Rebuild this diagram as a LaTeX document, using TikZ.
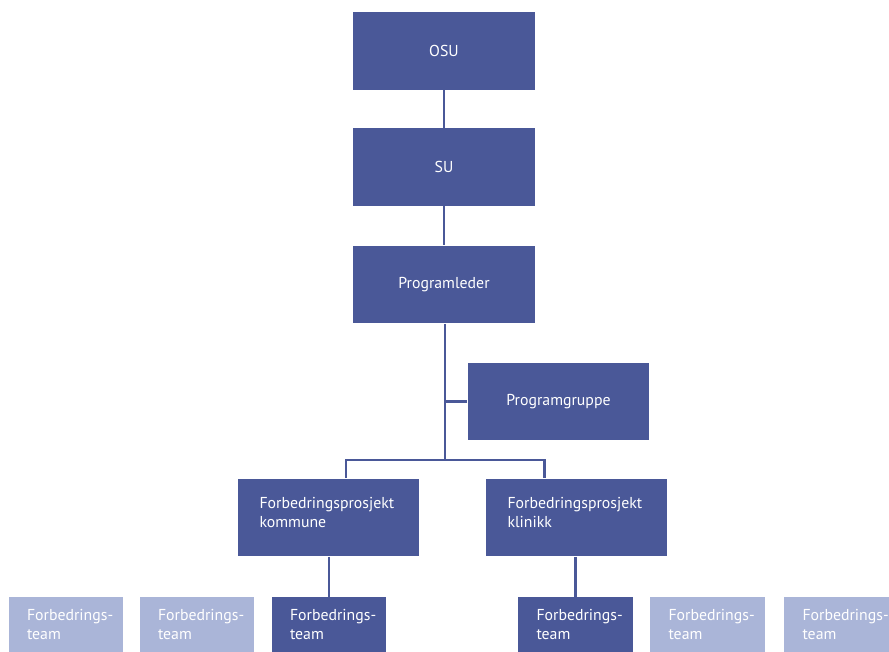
\documentclass[tikz,border=0pt]{standalone}
\usepackage{fontspec}
\setsansfont{PT Sans}
\usetikzlibrary{positioning}

\definecolor{orgdark}{RGB}{74,88,152}
\definecolor{orglight}{RGB}{170,181,216}

\tikzset{
  unit/.style={fill=orgdark, text=white, font=\sffamily\fontsize{9}{10.8}\selectfont,
    minimum width=3.64cm, minimum height=1.56cm, inner sep=0pt},
  project/.style={unit, text width=2.76cm, align=left},
  team/.style={unit, fill=orgdark, minimum width=2.3cm, minimum height=1.28cm,
    text width=1.56cm, align=left},
  spare/.style={team, fill=orglight},
  link/.style={draw=orgdark, line width=1.7pt}
}

\begin{document}
\begin{tikzpicture}[x=0.02cm, y=-0.02cm]
    \useasboundingbox (0,0) rectangle (889,652);
    \clip (0,0) rectangle (889,652);

    % management line
    \node[unit] (osu) at (444,51) {OSU};
    \node[unit] (su) at (444,167) {SU};
    \node[unit] (leder) at (444,284.5) {Programleder};
    \node[unit] (gruppe) at (558.5,401.5) {Programgruppe};

    \node[project] (kommune) at (328.5,517.5) {Forbedringsprosjekt\\kommune\\[-5pt]\mbox{}};
    \node[project] (klinikk) at (576.5,517.5) {Forbedringsprosjekt\\klinikk\\[-5pt]\mbox{}};

    % teams
    \node[spare] (teamA) at (66,629) {\mbox{Forbedrings-}\\team\\[-6pt]\mbox{}};
    \node[spare] (teamB) at (197,629) {\mbox{Forbedrings-}\\team\\[-6pt]\mbox{}};
    \node[team] (teamC) at (329,629) {\mbox{Forbedrings-}\\team\\[-6pt]\mbox{}};
    \node[team] (teamD) at (575.5,629) {\mbox{Forbedrings-}\\team\\[-6pt]\mbox{}};
    \node[spare] (teamE) at (707.5,629) {\mbox{Forbedrings-}\\team\\[-6pt]\mbox{}};
    \node[spare] (teamF) at (841.5,629) {\mbox{Forbedrings-}\\team\\[-6pt]\mbox{}};

    \coordinate (split) at (445,460);
    \coordinate (kin) at (346,460);
    \coordinate (klin) at (544,460);

    \draw[link] (osu) -- (su);
    \draw[link] (su) -- (leder);
    \draw[link] (leder.south -| split) -- (split);
    \draw[link] (gruppe.west) -- (gruppe.west -| split);
    \draw[link] (kin |- kommune.north) -- (kin) -- (klin) -- (klin |- klinikk.north);
    \draw[link] (kommune.south -| teamC) -- (teamC.north);
    \draw[link] (klinikk.south -| teamD) -- (teamD.north);
\end{tikzpicture}
\end{document}
